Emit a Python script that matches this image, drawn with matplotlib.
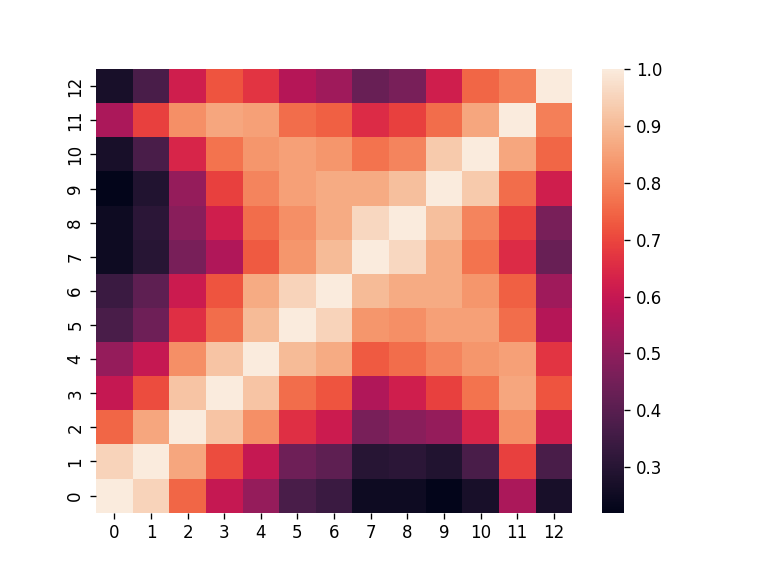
import matplotlib
matplotlib.use("Agg")
import matplotlib.pyplot as plt
import seaborn as sns
import numpy as np

# correlation matrix (row 0 = bottom row)
labels = list(range(13))
corr = [
    [1.00, 0.95, 0.75, 0.60, 0.51, 0.37, 0.34, 0.25, 0.25, 0.22, 0.27, 0.55, 0.27],
    [0.95, 1.00, 0.86, 0.71, 0.60, 0.44, 0.41, 0.30, 0.31, 0.29, 0.37, 0.69, 0.37],
    [0.75, 0.86, 1.00, 0.92, 0.82, 0.66, 0.61, 0.46, 0.49, 0.51, 0.64, 0.82, 0.62],
    [0.60, 0.71, 0.92, 1.00, 0.92, 0.76, 0.72, 0.56, 0.62, 0.69, 0.77, 0.86, 0.72],
    [0.51, 0.60, 0.82, 0.92, 1.00, 0.90, 0.87, 0.73, 0.76, 0.80, 0.83, 0.85, 0.67],
    [0.37, 0.44, 0.66, 0.76, 0.90, 1.00, 0.95, 0.83, 0.82, 0.85, 0.85, 0.76, 0.57],
    [0.34, 0.41, 0.61, 0.72, 0.87, 0.95, 1.00, 0.90, 0.87, 0.87, 0.83, 0.74, 0.53],
    [0.25, 0.30, 0.46, 0.56, 0.73, 0.83, 0.90, 1.00, 0.96, 0.87, 0.77, 0.65, 0.43],
    [0.25, 0.31, 0.49, 0.62, 0.76, 0.82, 0.87, 0.96, 1.00, 0.91, 0.80, 0.69, 0.46],
    [0.22, 0.29, 0.51, 0.69, 0.80, 0.85, 0.87, 0.87, 0.91, 1.00, 0.93, 0.76, 0.62],
    [0.27, 0.37, 0.64, 0.77, 0.83, 0.85, 0.83, 0.77, 0.80, 0.93, 1.00, 0.86, 0.75],
    [0.55, 0.69, 0.82, 0.86, 0.85, 0.76, 0.74, 0.65, 0.69, 0.76, 0.86, 1.00, 0.79],
    [0.27, 0.37, 0.62, 0.72, 0.67, 0.57, 0.53, 0.43, 0.46, 0.62, 0.75, 0.79, 1.00],
]

fig = plt.figure(figsize=(6.4, 4.8), dpi=120)
ax = sns.heatmap(np.array(corr), xticklabels=labels, yticklabels=labels)
ax.invert_yaxis()
plt.setp(ax.get_yticklabels(), rotation=90, va="center")
plt.setp(ax.get_xticklabels(), rotation=0)
fig.savefig("out.png", dpi=120)
